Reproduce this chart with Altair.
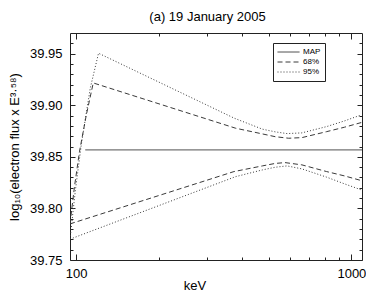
import altair as alt
import pandas as pd

TITLE = "(a) 19 January 2005"
X_TITLE = "keV"
Y_TITLE = "log₁₀(electron flux x E³·⁵⁸)"

BANDS = ["MAP", "68%", "95%"]

MAP_E = [108, 1093]
MAP_V = [39.8567, 39.8567]

U68_E = [95, 98.6, 102.8, 108.9, 115.4, 380, 475, 529, 592, 661, 813, 944, 1086]
U68_V = [39.785, 39.8209, 39.8548, 39.8906, 39.9216, 39.8777, 39.8722, 39.8695,
         39.8680, 39.8686, 39.8744, 39.8787, 39.8832]

L68_E = [95, 374.5, 475, 529, 574, 661, 813, 944, 1086]
L68_V = [39.785, 39.8357, 39.8412, 39.8436, 39.8444, 39.8422, 39.8357, 39.8315, 39.8270]

U95_E = [95, 99.4, 104.5, 112.6, 120.6, 375.7, 475, 529, 584, 661, 813, 944, 1086]
U95_V = [39.7704, 39.8179, 39.8625, 39.9168, 39.9504, 39.8874, 39.8768, 39.8742,
         39.8725, 39.8732, 39.8793, 39.8848, 39.8906]

L95_E = [95, 379.8, 475, 529, 584, 661, 813, 944, 1086]
L95_V = [39.7702, 39.8308, 39.8373, 39.8399, 39.8412, 39.8383, 39.8303, 39.8238, 39.8180]

X_MAJOR = [100, 1000]
X_MINOR = [200, 300, 400, 500, 600, 700, 800, 900]
Y_MAJOR = [39.75, 39.80, 39.85, 39.90, 39.95]
Y_MINOR = [39.76, 39.77, 39.78, 39.79, 39.81, 39.82, 39.83, 39.84, 39.86, 39.87,
           39.88, 39.89, 39.91, 39.92, 39.93, 39.94, 39.96]
X_DOMAIN = [95, 1093]
Y_DOMAIN = [39.75, 39.97]

rows = []
for name, band, es, vs in [("map", "MAP", MAP_E, MAP_V),
                           ("u68", "68%", U68_E, U68_V),
                           ("l68", "68%", L68_E, L68_V),
                           ("u95", "95%", U95_E, U95_V),
                           ("l95", "95%", L95_E, L95_V)]:
    for i, (e, v) in enumerate(zip(es, vs)):
        rows.append({"E": e, "v": v, "band": band, "line": name, "i": i})
df = pd.DataFrame(rows)

FONT = "Liberation Sans"
LINE = "#3a3a3a"
xs = alt.Scale(type="log", domain=X_DOMAIN, nice=False)
ys = alt.Scale(domain=Y_DOMAIN, nice=False, zero=False)


def enc(xaxis, yaxis):
    return dict(
        x=alt.X("E:Q", scale=xs, axis=xaxis),
        y=alt.Y("v:Q", scale=ys, axis=yaxis),
        detail="line:N",
        order="i:Q",
    )


base = alt.Chart(df)

lines = base.mark_line(color=LINE, strokeWidth=1, clip=True).encode(
    **enc(
        alt.Axis(orient="bottom", values=X_MAJOR, format="d", tickSize=6, offset=-6,
                 domain=False, grid=False, labelPadding=7, labelFlush=False,
                 labelOverlap=False, title=X_TITLE, titleX=124.5, titleY=35,
                 titleBaseline="alphabetic", titleAlign="center"),
        alt.Axis(orient="left", values=Y_MAJOR, format=".2f", tickSize=5, offset=-5,
                 domain=False, grid=False, labelPadding=8, labelOverlap=False,
                 title=Y_TITLE, titlePadding=8),
    ),
    strokeDash=alt.StrokeDash(
        "band:N",
        scale=alt.Scale(domain=BANDS, range=[[1, 0], [5, 3], [1, 2]]),
        legend=alt.Legend(title=None, orient="none", legendX=203, legendY=10,
                          symbolType="stroke", symbolSize=484, symbolStrokeWidth=1,
                          symbolStrokeColor=LINE, labelFont=FONT, labelFontSize=8,
                          labelColor="black", labelOffset=3, strokeColor="#222",
                          fillColor="white", padding=4, clipHeight=10, rowPadding=0),
    ),
)


def ghost(xaxis, yaxis):
    return base.mark_line(opacity=0).encode(**enc(xaxis, yaxis))


g1 = ghost(
    alt.Axis(orient="bottom", values=X_MINOR, tickSize=3, offset=-3, labels=False,
             domain=False, grid=False, title=""),
    alt.Axis(orient="left", values=Y_MINOR, tickSize=3, offset=-3, labels=False,
             domain=False, grid=False, title=""),
)
g2 = ghost(
    alt.Axis(orient="top", values=X_MAJOR, tickSize=6, offset=-6, labels=False,
             domain=False, grid=False, title=""),
    alt.Axis(orient="right", values=Y_MAJOR, tickSize=5, offset=-5, labels=False,
             domain=False, grid=False, title=""),
)
g3 = ghost(
    alt.Axis(orient="top", values=X_MINOR, tickSize=3, offset=-3, labels=False,
             domain=False, grid=False, title=""),
    alt.Axis(orient="right", values=Y_MINOR, tickSize=3, offset=-3, labels=False,
             domain=False, grid=False, title=""),
)

chart = (
    alt.layer(lines, g1, g2, g3)
    .resolve_axis(x="independent", y="independent")
    .properties(
        width=292,
        height=227,
        padding={"left": 62, "top": 25, "right": 4, "bottom": 31},
        autosize=alt.AutoSizeParams(type="none"),
        title=alt.TitleParams(TITLE, font=FONT, fontSize=13, fontWeight="normal",
                              color="black", anchor="middle", dx=-8.5, dy=9,
                              baseline="alphabetic", offset=8, frame="group"),
    )
    .configure_view(stroke="#222", strokeWidth=1)
    .configure_axis(labelFont=FONT, labelFontSize=13, labelColor="black",
                    titleFont=FONT, titleFontSize=13, titleFontWeight="normal",
                    titleColor="black", tickColor="#222", tickWidth=1)
)

chart.save("out.html", embed_options={"renderer": "svg", "actions": False})
